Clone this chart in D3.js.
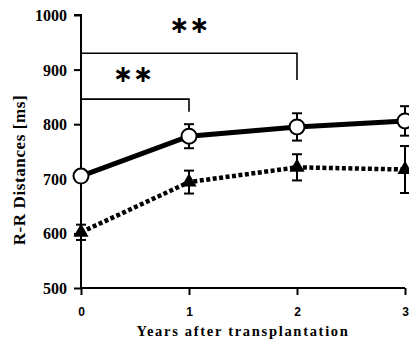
<!DOCTYPE html>
<html><head><meta charset="utf-8">
<script src="https://cdn.jsdelivr.net/npm/d3@7"></script>
<style>html,body{margin:0;padding:0;background:#fff;overflow:hidden}</style>
</head><body>
<script>
const years = [0, 1, 2, 3];
const openMean = [705, 778, 795, 806];
const openErr = [10, 22, 25, 27];
const filledMean = [602, 694, 721, 717];
const filledErr = [14, 21, 24, 43];
const yTicks = [500, 600, 700, 800, 900, 1000];
const xTicks = [0, 1, 2, 3];
const bracketFrom = [0, 0];
const bracketTo = [1, 2];
const bracketLevel = [846, 930];
const bracketDrop = [823, 881];
const starLabel = ["\u2217\u2217", "\u2217\u2217"];
const starYear = [0.48, 1.0];
const starValue = [877, 967];

const W = 409, H = 342;
const serif = "'Liberation Serif', 'Times New Roman', serif";
const svg = d3.select("body").append("svg").attr("width", W).attr("height", H);
const x = d3.scaleLinear().domain([0, 3]).range([81, 405]);
const y = d3.scaleLinear().domain([500, 1000]).range([288, 15]);

// axes
const yAxis = d3.axisLeft(y).tickValues(yTicks).tickSize(7).tickFormat(d3.format("d"));
const gy = svg.append("g").attr("transform", `translate(${x(0)},0)`).call(yAxis);
gy.select(".domain").attr("d", `M-7,${y(1000)}H0V${y(500)}`).attr("stroke-width", 2);
gy.selectAll(".tick line").attr("stroke-width", 2);
gy.selectAll("text").style("font-family", serif)
  .style("font-weight", "bold").style("font-size", "16px").attr("fill", "#000").attr("x", -14).attr("dy", "0.34em");

const xAxis = d3.axisBottom(x).tickValues(xTicks).tickSize(7).tickFormat(d3.format("d"));
const gx = svg.append("g").attr("transform", "translate(0,288)").call(xAxis);
gx.select(".domain").attr("d", `M${x(0)},0H${x(3)}`).attr("stroke-width", 2);
gx.selectAll(".tick line").attr("stroke-width", 2);
gx.selectAll("text").style("font-family", "'Liberation Sans', Arial, sans-serif")
  .style("font-weight", "bold").style("font-size", "12px").attr("fill", "#000").attr("y", 19);

// axis titles
svg.append("text").attr("x", 243).attr("y", 336).attr("text-anchor", "middle")
  .style("font-family", serif).style("font-weight", "bold")
  .style("font-size", "14.5px").attr("letter-spacing", 1.7).text("Years after transplantation");
svg.append("text").attr("transform", "translate(25,170) rotate(-90)").attr("text-anchor", "middle")
  .style("font-family", serif).style("font-weight", "bold")
  .style("font-size", "17px").attr("letter-spacing", 0.6).text("R-R Distances [ms]");

// significance brackets
bracketFrom.forEach((f, i) => {
  svg.append("path").attr("fill", "none").attr("stroke", "#000").attr("stroke-width", 1.6)
    .attr("d", `M${x(f)},${y(bracketLevel[i])}H${x(bracketTo[i])}V${y(bracketDrop[i])}`);
  svg.append("text").attr("x", x(starYear[i])).attr("y", y(starValue[i])).attr("text-anchor", "middle")
    .style("font-family", "'DejaVu Sans', sans-serif").style("font-weight", "bold")
    .style("font-size", "24px").attr("letter-spacing", 0).text(starLabel[i]);
});

function errorBars(means, errs) {
  const g = svg.append("g").attr("stroke", "#000").attr("stroke-width", 2);
  years.forEach((yr, i) => {
    const cx = x(yr);
    g.append("line").attr("x1", cx).attr("x2", cx).attr("y1", y(means[i] + errs[i])).attr("y2", y(means[i] - errs[i]));
    g.append("line").attr("x1", cx - 5).attr("x2", cx + 5).attr("y1", y(means[i] + errs[i])).attr("y2", y(means[i] + errs[i]));
    g.append("line").attr("x1", cx - 5).attr("x2", cx + 5).attr("y1", y(means[i] - errs[i])).attr("y2", y(means[i] - errs[i]));
  });
}

errorBars(filledMean, filledErr);
errorBars(openMean, openErr);

const line = d3.line().x((d, i) => x(years[i])).y(d => y(d));
svg.append("path").datum(filledMean).attr("d", line).attr("fill", "none")
  .attr("stroke", "#000").attr("stroke-width", 4.5).attr("stroke-dasharray", "4,2.5");
svg.append("path").datum(openMean).attr("d", line).attr("fill", "none")
  .attr("stroke", "#000").attr("stroke-width", 5);

svg.append("g").selectAll("path").data(filledMean).join("path")
  .attr("transform", (d, i) => `translate(${x(years[i])},${y(d)})`)
  .attr("d", d3.symbol().type(d3.symbolTriangle).size(100)).attr("fill", "#000");

svg.append("g").selectAll("circle").data(openMean).join("circle")
  .attr("cx", (d, i) => x(years[i])).attr("cy", d => y(d)).attr("r", 7.5)
  .attr("fill", "#fff").attr("stroke", "#000").attr("stroke-width", 2);
</script>
</body></html>
